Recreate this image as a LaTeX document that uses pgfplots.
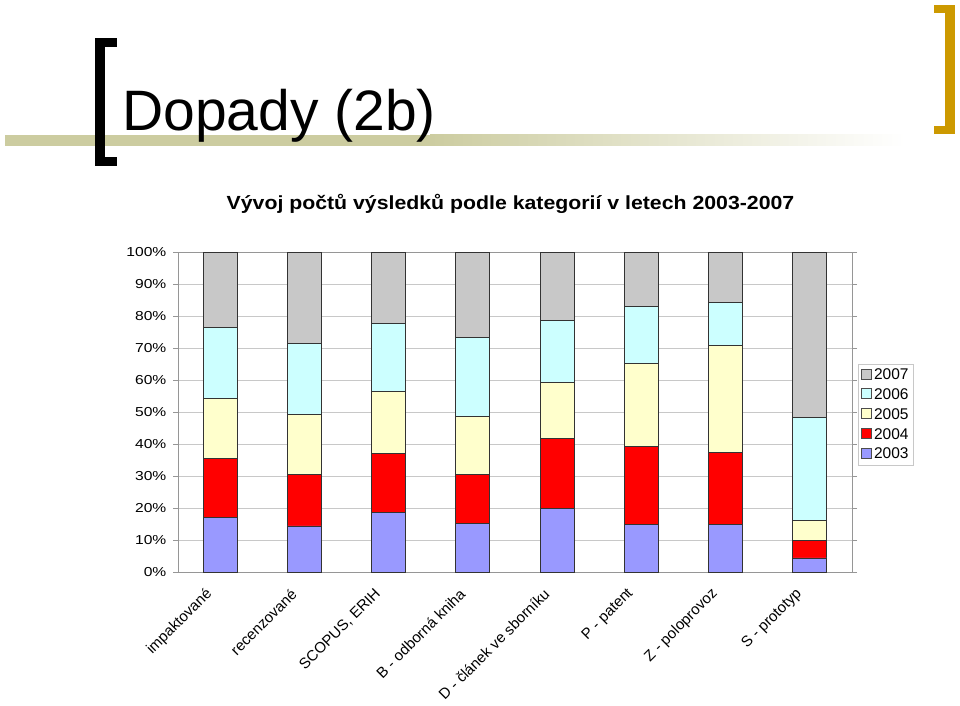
\documentclass[border=0pt]{standalone}
\usepackage{fontspec}
\setmainfont{Liberation Sans}
\usepackage{pgfplots}
\pgfplotsset{compat=1.18}
\definecolor{cA}{HTML}{9999FF}
\definecolor{cB}{HTML}{FF0000}
\definecolor{cC}{HTML}{FFFFCC}
\definecolor{cD}{HTML}{CCFFFF}
\definecolor{cE}{HTML}{C8C8C8}
\definecolor{band}{RGB}{204,204,160}
\definecolor{gold}{HTML}{CC9900}
\definecolor{axgray}{RGB}{150,150,150}
\definecolor{gridgray}{RGB}{200,200,200}
\begin{document}
\begin{tikzpicture}[x=1pt,y=1pt]
\useasboundingbox (0,0) rectangle (960,705);
\fill[white] (0,0) rectangle (960,705);
% decorative band
\fill[band] (5,559) rectangle (431,570);
\shade[left color=band, right color=white] (430,559) rectangle (905,570);
% left black bracket
\fill[black] (95,539) rectangle (105,667);
\fill[black] (95,658) rectangle (117,667);
\fill[black] (95,539) rectangle (117,548);
% right gold bracket
\fill[gold] (945,571) rectangle (955,700);
\fill[gold] (934,692) rectangle (955,700);
\fill[gold] (934,571) rectangle (955,579);
% title
\node[anchor=base west, inner sep=0pt, font=\fontsize{57}{66}\selectfont] at (122,574) {Dopady (2b)};
% chart title
\node[anchor=base, inner sep=0pt, xscale=1.12, font=\fontsize{19}{23}\selectfont\bfseries] at (510.5,495) {Vývoj počtů výsledků podle kategorií v letech 2003-2007};
\begin{axis}[
  at={(178pt,133pt)}, anchor=south west,
  width=674pt, height=320pt, scale only axis,
  ybar stacked, bar width=34pt,
  xmin=-0.5, xmax=7.5, ymin=0, ymax=100,
  axis line style={axgray},
  xtick={0,...,7},
  xticklabels={impaktované, recenzované, {SCOPUS, ERIH}, B - odborná kniha, D - článek ve sborníku, P - patent, Z - poloprovoz, S - prototyp},
  x tick style={draw=none},
  xticklabel style={xshift=-8pt, yshift=-12pt, rotate=45, anchor=east, font=\fontsize{15}{17}\selectfont},
  extra x ticks={0.5,1.5,2.5,3.5,4.5,5.5,6.5},
  extra x tick labels={},
  extra x tick style={grid=none, tick align=outside, major tick length=5pt, tick style={axgray, draw=axgray}},
  ytick={0,10,...,100},
  yticklabels={0\%,10\%,20\%,30\%,40\%,50\%,60\%,70\%,80\%,90\%,100\%},
  yticklabel style={font=\fontsize{13}{15}\selectfont, xscale=1.2, anchor=east, xshift=-2pt},
  y tick style={axgray},
  tick align=outside, major tick length=5pt,
  ymajorgrids, grid style={gridgray},
  legend style={at={(1.009,0.492)}, anchor=west, draw=gridgray, font=\fontsize{15.5}{18}\selectfont, row sep=3.5pt, inner sep=3pt, cells={anchor=west}},
  reverse legend,
  legend image code/.code={\draw[#1, draw=black!70] (0pt,-4pt) rectangle (10pt,6pt);},
  every axis plot/.append style={draw=black!80, line width=0.8pt},
]
\addplot[fill=cA] coordinates {(0,17.1) (1,14.4) (2,18.6) (3,15.2) (4,20.0) (5,14.8) (6,14.8) (7,4.4)};
\addlegendentry{2003}
\addplot[fill=cB] coordinates {(0,18.3) (1,16.0) (2,18.4) (3,15.4) (4,21.8) (5,24.4) (6,22.7) (7,5.4)};
\addlegendentry{2004}
\addplot[fill=cC] coordinates {(0,18.9) (1,18.9) (2,19.5) (3,18.15) (4,17.5) (5,25.9) (6,33.3) (7,6.3)};
\addlegendentry{2005}
\addplot[fill=cD] coordinates {(0,22.2) (1,22.2) (2,21.3) (3,24.55) (4,19.45) (5,18.0) (6,13.5) (7,32.3)};
\addlegendentry{2006}
\addplot[fill=cE] coordinates {(0,23.5) (1,28.5) (2,22.2) (3,26.7) (4,21.25) (5,16.9) (6,15.7) (7,51.6)};
\addlegendentry{2007}
\end{axis}
\end{tikzpicture}
\end{document}
